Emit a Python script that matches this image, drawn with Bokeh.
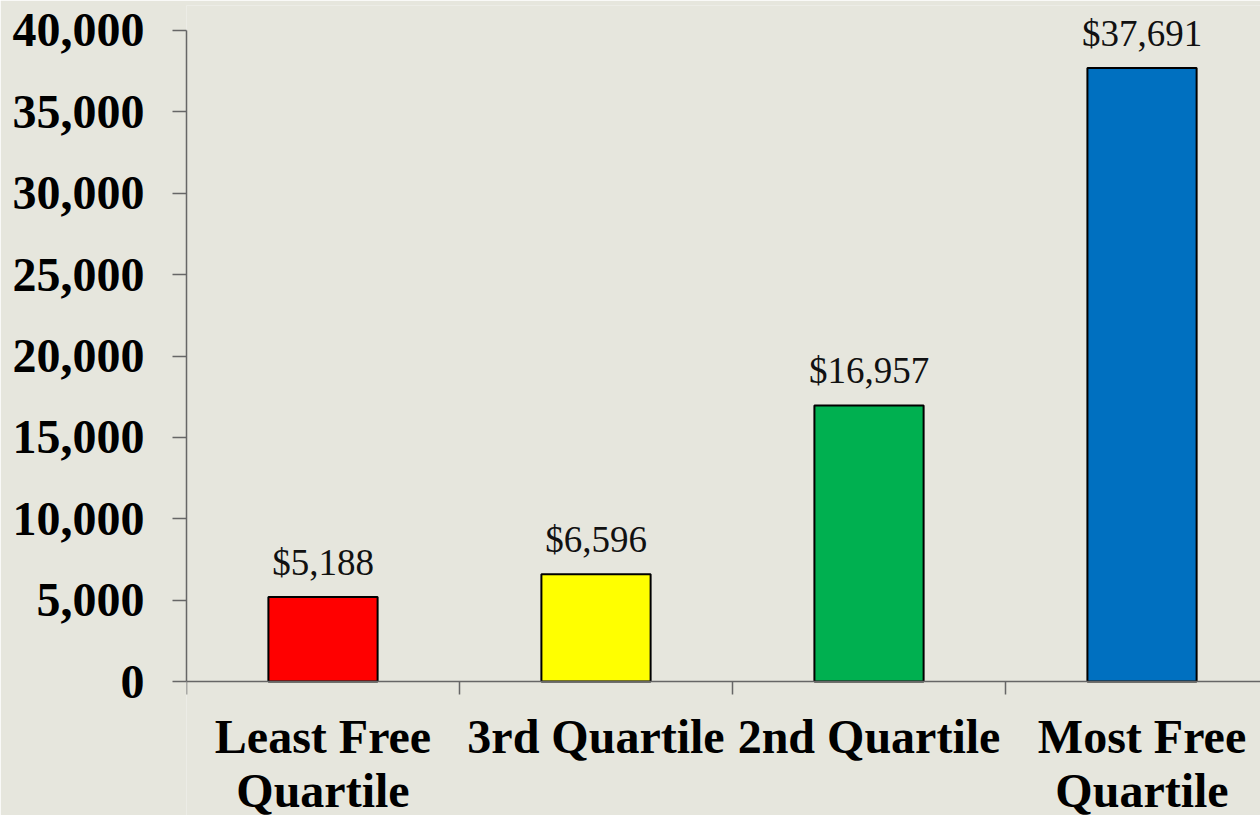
from bokeh.plotting import figure
from bokeh.models import (ColumnDataSource, Range1d, FixedTicker, NumeralTickFormatter)
from bokeh.core.properties import value
from bokeh.embed import file_html
from bokeh.resources import INLINE

categories = ["Least Free\nQuartile", "3rd Quartile", "2nd Quartile", "Most Free\nQuartile"]
values = [5188, 6596, 16957, 37691]
value_labels = ["$5,188", "$6,596", "$16,957", "$37,691"]
colors = ["#FF0000", "#FFFF00", "#00B050", "#0070C0"]

xs = [i + 0.5 for i in range(len(categories))]
src = ColumnDataSource(dict(x=xs, top=values, lab=value_labels, color=colors,
                            cat=categories, zero=[0] * len(xs)))

BG = "#E6E6DD"
p = figure(width=1260, height=815, output_backend="svg", toolbar_location=None,
           x_range=Range1d(0, 3.934), y_range=Range1d(-8233, 41536),
           min_border_left=186, min_border_right=0, min_border_top=5, min_border_bottom=0)
p.background_fill_color = BG
p.border_fill_color = BG
p.outline_line_color = None
p.grid.visible = False

p.vbar(x="x", top="top", width=0.4, bottom=0, source=src, fill_color="color",
       line_color="black", line_width=2)

# value labels above bars
p.text(x="x", y="top", text="lab", source=src, y_offset=-35,
       text_align="center", text_baseline="alphabetic",
       text_font=value("Liberation Serif"), text_font_size="37px", text_color="#111111")

# category labels below the axis
p.text(x="x", y="zero", text="cat", source=src, y_offset=28,
       text_align="center", text_baseline="top", text_line_height=1.02,
       text_font=value("Liberation Serif"), text_font_style="bold",
       text_font_size="48px", text_color="black")

# y axis
ya = p.yaxis[0]
ya.bounds = (0, 40000)
ya.ticker = FixedTicker(ticks=list(range(0, 40001, 5000)), minor_ticks=[])
ya.formatter = NumeralTickFormatter(format="0,0")
ya.major_label_text_font = "Liberation Serif"
ya.major_label_text_font_style = "bold"
ya.major_label_text_font_size = "48px"
ya.major_label_text_color = "black"
ya.major_tick_out = 14
ya.major_tick_in = 0
ya.minor_tick_out = 0
ya.minor_tick_in = 0
ya.major_label_standoff = 28
ya.axis_line_color = "#666666"
ya.major_tick_line_color = "#666666"
ya.axis_line_width = 1.5
ya.major_tick_line_width = 1.5

# x axis at value 0, boundary ticks only
xa = p.xaxis[0]
xa.fixed_location = 0
xa.ticker = FixedTicker(ticks=[], minor_ticks=[0, 1, 2, 3, 4])
xa.major_label_text_font_size = "0px"
xa.major_label_standoff = 0
xa.major_tick_out = 0
xa.major_tick_in = 0
xa.minor_tick_out = 0
xa.minor_tick_in = -13
xa.axis_line_color = "#666666"
xa.minor_tick_line_color = "#666666"
xa.axis_line_width = 1.5
xa.minor_tick_line_width = 1.5

open("out.html", "w").write(file_html(p, INLINE))
